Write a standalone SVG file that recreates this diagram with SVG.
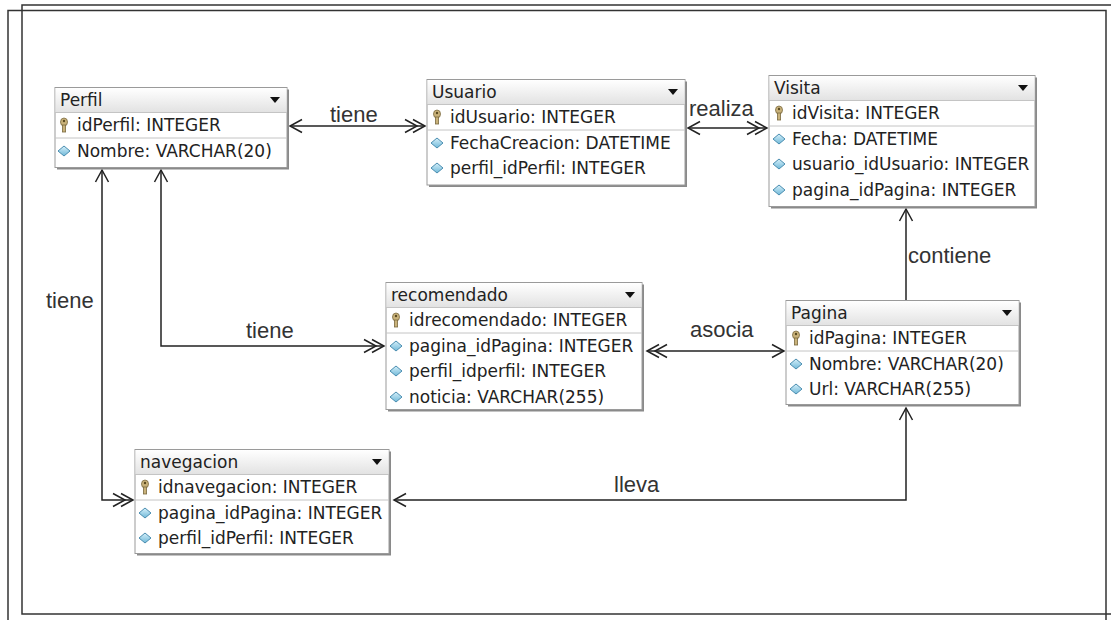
<svg xmlns="http://www.w3.org/2000/svg" width="1111" height="620" viewBox="0 0 1111 620">
<style>
.frame{fill:none;stroke:#333;stroke-width:1.5}
.shadow{fill:#8a8a8a}
.box{fill:#fff;stroke:#9a9a9a;stroke-width:1}
.hdr{fill:url(#hg)}
.sep{stroke:#c4c4c4;stroke-width:1}
.t{font-family:"DejaVu Sans",sans-serif;font-size:17px;fill:#222}
.lbl{font-family:"Liberation Sans",Arial,sans-serif;font-size:22px;fill:#333}
.con{fill:none;stroke:#222;stroke-width:1.5}
.dia{fill:url(#dg);stroke:#4a8db0;stroke-width:1}
.keyh{fill:#c9b27a;stroke:#7a6a40;stroke-width:0.8}
.tri{fill:#111}
</style>
<defs>
<linearGradient id="hg" x1="0" y1="0" x2="0" y2="1"><stop offset="0" stop-color="#ffffff"/><stop offset="1" stop-color="#e2e2e2"/></linearGradient>
<linearGradient id="dg" x1="0" y1="0" x2="0" y2="1"><stop offset="0" stop-color="#d6f0fa"/><stop offset="1" stop-color="#6fb8d8"/></linearGradient>
<marker id="a1" viewBox="0 0 16 16" markerWidth="16" markerHeight="16" refX="14" refY="8" orient="auto-start-reverse" markerUnits="userSpaceOnUse"><path d="M2,1.5 L14,8 L2,14.5" fill="none" stroke="#222" stroke-width="1.5"/></marker>
<marker id="a2" viewBox="0 0 24 16" markerWidth="24" markerHeight="16" refX="22" refY="8" orient="auto-start-reverse" markerUnits="userSpaceOnUse"><path d="M2,1.5 L14,8 L2,14.5 M10,1.5 L22,8 L10,14.5" fill="none" stroke="#222" stroke-width="1.5"/></marker>
<g id="key"><ellipse cx="0" cy="-3" rx="3.5" ry="4" class="keyh"/><rect x="-1.6" y="0" width="3.2" height="7" class="keyh"/><circle cx="0" cy="-4" r="1.2" fill="#5a4a20"/></g>
<polygon id="dm" points="0,-5 6,0 0,5 -6,0" class="dia"/>
<polygon id="tr" points="-5,-3 5,-3 0,3" class="tri"/>
</defs>

<g id="frame">
<polyline class="frame" points="1111,5 22,5 22,614 1111,614"/>
<polyline class="frame" points="8,620 8,10.5 1106,10.5 1106,620"/>
</g>

<g id="connectors">
<line class="con" x1="290" y1="126" x2="425" y2="126" marker-start="url(#a1)" marker-end="url(#a2)"/>
<line class="con" x1="688" y1="128" x2="767" y2="128" marker-start="url(#a1)" marker-end="url(#a2)"/>
<line class="con" x1="906" y1="300" x2="906" y2="209" marker-end="url(#a1)"/>
<polyline class="con" points="102,170 102,500 133,500" marker-start="url(#a1)" marker-end="url(#a2)"/>
<polyline class="con" points="161,170 161,346 384,346" marker-start="url(#a1)" marker-end="url(#a2)"/>
<line class="con" x1="647" y1="351" x2="784" y2="351" marker-start="url(#a2)" marker-end="url(#a1)"/>
<polyline class="con" points="394,500 906,500 906,408" marker-start="url(#a1)" marker-end="url(#a1)"/>
<text class="lbl" x="330" y="122">tiene</text>
<text class="lbl" x="689" y="116">realiza</text>
<text class="lbl" x="908" y="263">contiene</text>
<text class="lbl" x="46" y="308">tiene</text>
<text class="lbl" x="246" y="338">tiene</text>
<text class="lbl" x="690" y="337">asocia</text>
<text class="lbl" x="614" y="492">lleva</text>
</g>

<g id="perfil">
<rect class="shadow" x="57" y="89.5" width="232" height="80"/>
<rect class="box" x="55" y="87.5" width="232" height="80"/>
<rect class="hdr" x="55.5" y="88" width="231" height="24.5"/>
<line class="sep" x1="55" y1="112.5" x2="287" y2="112.5"/>
<line class="sep" x1="55" y1="138" x2="287" y2="138"/>
<text class="t" x="60" y="106">Perfil</text>
<use href="#tr" x="275" y="100"/>
<use href="#key" x="64" y="125"/>
<text class="t" x="77" y="131">idPerfil: INTEGER</text>
<use href="#dm" x="64" y="151"/>
<text class="t" x="77" y="157">Nombre: VARCHAR(20)</text>
</g>

<g id="usuario">
<rect class="shadow" x="429" y="81.5" width="258" height="105.5"/>
<rect class="box" x="427" y="79.5" width="258" height="105.5"/>
<rect class="hdr" x="427.5" y="80" width="257" height="24.5"/>
<line class="sep" x1="427" y1="104.5" x2="685" y2="104.5"/>
<line class="sep" x1="427" y1="130" x2="685" y2="130"/>
<text class="t" x="432" y="98">Usuario</text>
<use href="#tr" x="673" y="92"/>
<use href="#key" x="437" y="117"/>
<text class="t" x="450" y="123">idUsuario: INTEGER</text>
<use href="#dm" x="437" y="143"/>
<text class="t" x="450" y="149">FechaCreacion: DATETIME</text>
<use href="#dm" x="437" y="168"/>
<text class="t" x="450" y="174">perfil_idPerfil: INTEGER</text>
</g>

<g id="visita">
<rect class="shadow" x="771" y="77.5" width="266" height="131"/>
<rect class="box" x="769" y="75.5" width="266" height="131"/>
<rect class="hdr" x="769.5" y="76" width="265" height="24.5"/>
<line class="sep" x1="769" y1="100.5" x2="1035" y2="100.5"/>
<line class="sep" x1="769" y1="126" x2="1035" y2="126"/>
<text class="t" x="774" y="94">Visita</text>
<use href="#tr" x="1023" y="88"/>
<use href="#key" x="779" y="113"/>
<text class="t" x="792" y="119">idVisita: INTEGER</text>
<use href="#dm" x="779" y="139"/>
<text class="t" x="792" y="145">Fecha: DATETIME</text>
<use href="#dm" x="779" y="164"/>
<text class="t" x="792" y="170">usuario_idUsuario: INTEGER</text>
<use href="#dm" x="779" y="190"/>
<text class="t" x="792" y="196">pagina_idPagina: INTEGER</text>
</g>

<g id="recomendado">
<rect class="shadow" x="388" y="284.5" width="256" height="127"/>
<rect class="box" x="386" y="282.5" width="256" height="127"/>
<rect class="hdr" x="386.5" y="283" width="255" height="24.5"/>
<line class="sep" x1="386" y1="307.5" x2="642" y2="307.5"/>
<line class="sep" x1="386" y1="333" x2="642" y2="333"/>
<text class="t" x="391" y="301">recomendado</text>
<use href="#tr" x="630" y="295"/>
<use href="#key" x="396" y="320"/>
<text class="t" x="409" y="326">idrecomendado: INTEGER</text>
<use href="#dm" x="396" y="346"/>
<text class="t" x="409" y="352">pagina_idPagina: INTEGER</text>
<use href="#dm" x="396" y="371"/>
<text class="t" x="409" y="377">perfil_idperfil: INTEGER</text>
<use href="#dm" x="396" y="397"/>
<text class="t" x="409" y="403">noticia: VARCHAR(255)</text>
</g>

<g id="pagina">
<rect class="shadow" x="788" y="302.5" width="233" height="104"/>
<rect class="box" x="786" y="300.5" width="233" height="104"/>
<rect class="hdr" x="786.5" y="301" width="232" height="24.5"/>
<line class="sep" x1="786" y1="325.5" x2="1019" y2="325.5"/>
<line class="sep" x1="786" y1="351" x2="1019" y2="351"/>
<text class="t" x="791" y="319">Pagina</text>
<use href="#tr" x="1007" y="313"/>
<use href="#key" x="796" y="338"/>
<text class="t" x="809" y="344">idPagina: INTEGER</text>
<use href="#dm" x="796" y="364"/>
<text class="t" x="809" y="370">Nombre: VARCHAR(20)</text>
<use href="#dm" x="796" y="389"/>
<text class="t" x="809" y="395">Url: VARCHAR(255)</text>
</g>

<g id="navegacion">
<rect class="shadow" x="137" y="451.5" width="254" height="104"/>
<rect class="box" x="135" y="449.5" width="254" height="104"/>
<rect class="hdr" x="135.5" y="450" width="253" height="24.5"/>
<line class="sep" x1="135" y1="474.5" x2="389" y2="474.5"/>
<line class="sep" x1="135" y1="500" x2="389" y2="500"/>
<text class="t" x="140" y="468">navegacion</text>
<use href="#tr" x="377" y="462"/>
<use href="#key" x="145" y="487"/>
<text class="t" x="158" y="493">idnavegacion: INTEGER</text>
<use href="#dm" x="145" y="513"/>
<text class="t" x="158" y="519">pagina_idPagina: INTEGER</text>
<use href="#dm" x="145" y="538"/>
<text class="t" x="158" y="544">perfil_idPerfil: INTEGER</text>
</g>
</svg>
